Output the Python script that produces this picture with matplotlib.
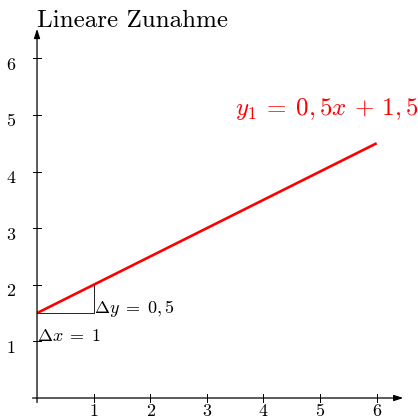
import matplotlib
matplotlib.use('Agg')
import matplotlib.pyplot as plt

plt.rcParams['mathtext.fontset'] = 'cm'
plt.rcParams['font.family'] = 'cmr10'
plt.rcParams['axes.unicode_minus'] = False

# data
x_ticks = [1, 2, 3, 4, 5, 6]
y_ticks = [1, 2, 3, 4, 5, 6]
line_x = [0, 6]
line_y = [1.5, 4.5]
tri_x0, tri_y0 = 0, 1.5
tri_dx, tri_dy = 1, 0.5

title = 'Lineare Zunahme'
eq_label = r'$y_1 \:=\: 0,5x \,+\, 1,5$'
dx_label = r'$\Delta x \;=\; 1$'
dy_label = r'$\Delta y \;=\; 0,5$'

fig = plt.figure(figsize=(4.18, 4.18), dpi=100)
ax = fig.add_axes([0, 0, 1, 1])
ax.set_xlim(-0.654, 6.73)
ax.set_ylim(-0.353, 7.03)
ax.axis('off')

# axes with arrows
arrow = dict(arrowstyle='-|>,head_length=0.55,head_width=0.18', lw=0.9,
             color='black', shrinkA=0, shrinkB=0)
ax.annotate('', xy=(6.47, 0), xytext=(-0.08, 0), arrowprops=arrow)
ax.annotate('', xy=(0, 6.52), xytext=(0, -0.08), arrowprops=arrow)

# ticks
for t in x_ticks:
    ax.plot([t, t], [-0.07, 0.07], color='black', lw=0.7)
    ax.text(t, -0.1, str(t), ha='center', va='top', fontsize=13)
for t in y_ticks:
    ax.plot([-0.07, 0.07], [t, t], color='black', lw=0.7)
    ax.text(-0.38, t - 0.12, str(t), ha='right', va='center', fontsize=13)

# slope triangle
ax.plot([tri_x0, tri_x0 + tri_dx, tri_x0 + tri_dx],
        [tri_y0, tri_y0, tri_y0 + tri_dy], color='black', lw=0.6)

# line
ax.plot(line_x, line_y, color='red', lw=1.9, solid_capstyle='butt')

ax.text(tri_x0 + tri_dx, tri_y0, dy_label, ha='left', va='baseline', fontsize=13)
ax.text(tri_x0, tri_y0 - 0.5, dx_label, ha='left', va='baseline', fontsize=13)
ax.text(3.5, 5.0, eq_label, color='red', ha='left', va='baseline', fontsize=18)
ax.text(0, 6.55, title, ha='left', va='baseline', fontsize=18)

fig.savefig('out.png', dpi=100)
